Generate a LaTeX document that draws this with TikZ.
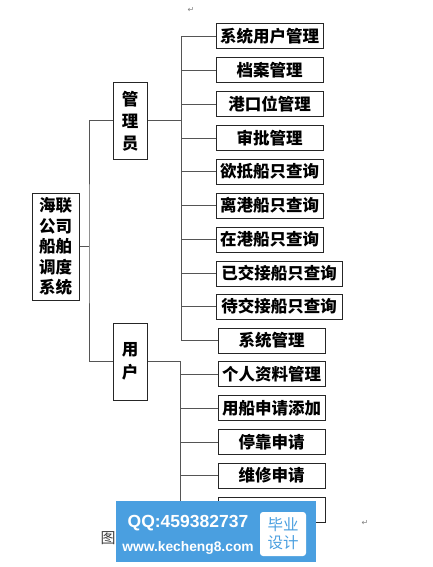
\documentclass[tikz,border=0pt]{standalone}
\usepackage{fontspec}
\newfontfamily\cjk{Noto Sans CJK SC}
\newfontfamily\dv{DejaVu Sans}
\setmainfont{Liberation Sans}
\definecolor{wmblue}{HTML}{4A9FE0}
\definecolor{linegray}{HTML}{555555}
\begin{document}
\begin{tikzpicture}[x=1pt,y=-1pt,
  box/.style={draw=black!85, line width=1pt, inner sep=0pt, minimum height=25pt, minimum width=107pt,
    font=\cjk\bfseries\fontsize{16.5}{18}\selectfont},
  conn/.style={draw=linegray, line width=1pt},
  pmark/.style={font=\dv\fontsize{8}{8}\selectfont, text=black!50, inner sep=0pt}]
\useasboundingbox (0,0) rectangle (432,567);
% root and level 1
\node[box, minimum width=47pt, minimum height=107pt, align=center,
  font=\cjk\bfseries\fontsize{16.5}{20.5}\selectfont] (root) at (55.5,246.5) {海联\\公司\\船舶\\调度\\系统};
\node[box, minimum width=34pt, minimum height=76pt, align=center,
  font=\cjk\bfseries\fontsize{16.5}{22}\selectfont] (adm) at (130,121) {管\\理\\员};
\node[box, minimum width=34pt, minimum height=77pt, align=center,
  font=\cjk\bfseries\fontsize{16.5}{23}\selectfont] (usr) at (130,361.5) {用\\户};
% admin children
\node[box] (a1) at (269.5,36.5) {系统用户管理};
\node[box] (a2) at (269.5,70.5) {档案管理};
\node[box] (a3) at (269.5,104.5) {港口位管理};
\node[box] (a4) at (269.5,138) {审批管理};
\node[box] (a5) at (269.5,171.5) {欲抵船只查询};
\node[box] (a6) at (269.5,205.5) {离港船只查询};
\node[box] (a7) at (269.5,239.5) {在港船只查询};
\node[box, minimum width=126pt] (a8) at (279,273.5) {已交接船只查询};
\node[box, minimum width=126pt] (a9) at (279,306.5) {待交接船只查询};
\node[box] (a10) at (271.5,340.5) {系统管理};
% user children
\node[box] (u1) at (271.5,374) {个人资料管理};
\node[box] (u2) at (271.5,408) {用船申请添加};
\node[box] (u3) at (271.5,442) {停靠申请};
\node[box] (u4) at (271.5,475.5) {维修申请};
\node[box] (u5) at (271.5,509.5) {};
% junctions
\coordinate (j0) at (89,246.5);
\coordinate (ja) at (181,121);
\coordinate (ju) at (180,361.5);
% connectors
\draw[conn] (root.east) -- (j0);
\draw[conn] (adm.west) -| (j0) |- (usr.west);
\draw[conn] (adm.east) -- (ja);
\draw[conn] (a1.west -| ja) -- (a10.west -| ja);
\foreach \n in {a1,a2,a3,a4,a5,a6,a7,a8,a9,a10}
  \draw[conn] (\n.west) -- (\n.west -| ja);
\draw[conn] (usr.east) -- (ju) -- (u5.west -| ju);
\foreach \n in {u1,u2,u3,u4,u5}
  \draw[conn] (\n.west) -- (\n.west -| ju);
% caption and paragraph marks
\node[font=\cjk\fontsize{15}{15}\selectfont, text=black!75, inner sep=0pt] (cap) at (108,538) {图};
\node[pmark] (pm1) at (191,10) {↵};
\node[pmark] (pm2) at (365,523) {↵};
% watermark
\fill[wmblue] (116,501) rectangle (316,562);
\fill[white, rounded corners=3pt] (260,512) rectangle (306,556);
\node[font=\bfseries\fontsize{17.5}{18}\selectfont, text=white, inner sep=0pt] (qq) at (188,523) {QQ:459382737};
\node[font=\bfseries\fontsize{13.8}{14}\selectfont, text=white, inner sep=0pt] (web) at (188,548) {www.kecheng8.com};
\node[font=\cjk\fontsize{15.5}{18}\selectfont, text=wmblue, inner sep=0pt, align=center] (bs) at (283,534) {毕业\\设计};
\end{tikzpicture}
\end{document}
